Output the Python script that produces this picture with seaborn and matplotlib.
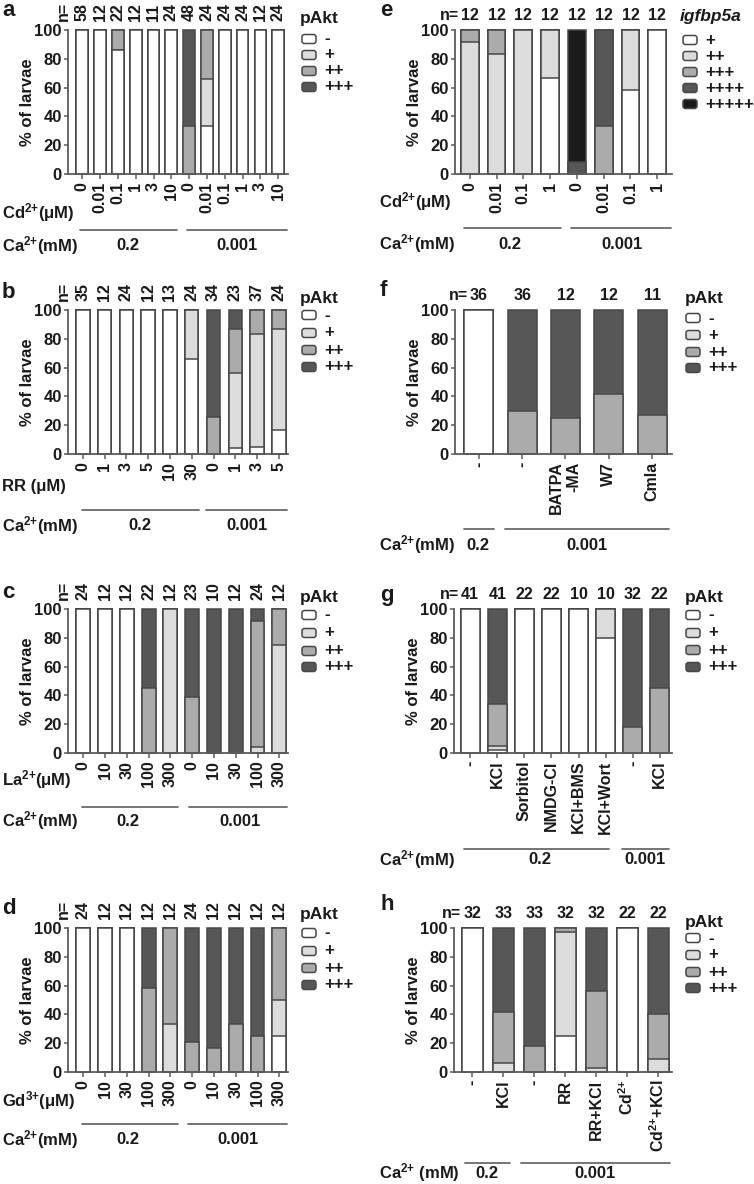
import numpy as np
import matplotlib
matplotlib.use("Agg")
import matplotlib.pyplot as plt
import seaborn as sns
from matplotlib.patches import FancyBboxPatch
from matplotlib.lines import Line2D
from matplotlib.transforms import IdentityTransform

sns.set_theme(style="ticks")
plt.rcParams['font.family'] = ['Liberation Sans', 'DejaVu Sans']
plt.rcParams['font.weight'] = 'bold'
plt.rcParams['mathtext.default'] = 'regular'
plt.rcParams['text.color'] = '#1a1a1a'
plt.rcParams['xtick.color'] = '#1a1a1a'
plt.rcParams['ytick.color'] = '#1a1a1a'

# ---------------- data ----------------
pakt_levels = ["-", "+", "++", "+++"]
igf_levels = ["+", "++", "+++", "++++", "+++++"]

a_labels = ["0", "0.01", "0.1", "1", "3", "10", "0", "0.01", "0.1", "1", "3", "10"]
a_n = [58, 12, 22, 12, 11, 24, 48, 24, 24, 24, 12, 24]
a_neg = [100, 100, 86, 100, 100, 100, 0, 33, 100, 100, 100, 100]
a_p1 = [0, 0, 0, 0, 0, 0, 0, 33, 0, 0, 0, 0]
a_p2 = [0, 0, 14, 0, 0, 0, 33, 34, 0, 0, 0, 0]
a_p3 = [0, 0, 0, 0, 0, 0, 67, 0, 0, 0, 0, 0]

b_labels = ["0", "1", "3", "5", "10", "30", "0", "1", "3", "5"]
b_n = [35, 12, 24, 12, 13, 24, 34, 23, 37, 24]
b_neg = [100, 100, 100, 100, 100, 66, 0, 4, 5, 17]
b_p1 = [0, 0, 0, 0, 0, 34, 0, 52, 78, 70]
b_p2 = [0, 0, 0, 0, 0, 0, 26, 31, 17, 13]
b_p3 = [0, 0, 0, 0, 0, 0, 74, 13, 0, 0]

c_labels = ["0", "10", "30", "100", "300", "0", "10", "30", "100", "300"]
c_n = [24, 12, 12, 22, 12, 23, 10, 12, 24, 12]
c_neg = [100, 100, 100, 0, 0, 0, 0, 0, 0, 0]
c_p1 = [0, 0, 0, 0, 100, 0, 0, 0, 4, 75]
c_p2 = [0, 0, 0, 45, 0, 39, 0, 0, 88, 25]
c_p3 = [0, 0, 0, 55, 0, 61, 100, 100, 8, 0]

d_labels = ["0", "10", "30", "100", "300", "0", "10", "30", "100", "300"]
d_n = [24, 12, 12, 12, 12, 24, 12, 12, 12, 12]
d_neg = [100, 100, 100, 0, 0, 0, 0, 0, 0, 25]
d_p1 = [0, 0, 0, 0, 33, 0, 0, 0, 0, 25]
d_p2 = [0, 0, 0, 58, 67, 21, 17, 33, 25, 50]
d_p3 = [0, 0, 0, 42, 0, 79, 83, 67, 75, 0]

e_labels = ["0", "0.01", "0.1", "1", "0", "0.01", "0.1", "1"]
e_n = [12, 12, 12, 12, 12, 12, 12, 12]
e_p1 = [0, 0, 0, 67, 0, 0, 58, 100]
e_p2 = [92, 83, 100, 33, 0, 0, 42, 0]
e_p3 = [8, 17, 0, 0, 0, 33, 0, 0]
e_p4 = [0, 0, 0, 0, 8, 67, 0, 0]
e_p5 = [0, 0, 0, 0, 92, 0, 0, 0]

f_labels = ["-", "-", "BATPA\n-MA", "W7", "Cmla"]
f_n = [36, 36, 12, 12, 11]
f_neg = [100, 0, 0, 0, 0]
f_p1 = [0, 0, 0, 0, 0]
f_p2 = [0, 30, 25, 42, 27]
f_p3 = [0, 70, 75, 58, 73]

g_labels = ["-", "KCl", "Sorbitol", "NMDG-Cl", "KCl+BMS", "KCl+Wort", "-", "KCl"]
g_n = [41, 41, 22, 22, 10, 10, 32, 22]
g_neg = [100, 2, 100, 100, 100, 80, 0, 0]
g_p1 = [0, 3, 0, 0, 0, 20, 0, 0]
g_p2 = [0, 29, 0, 0, 0, 0, 18, 45]
g_p3 = [0, 66, 0, 0, 0, 0, 82, 55]

h_labels = ["-", "KCl", "-", "RR", "RR+KCl", "Cd$^{2{+}}$", "Cd$^{2{+}}$+KCl"]
h_n = [32, 33, 33, 32, 32, 22, 22]
h_neg = [100, 0, 0, 25, 0, 100, 0]
h_p1 = [0, 6, 0, 72, 3, 0, 9]
h_p2 = [0, 36, 18, 3, 53, 0, 31]
h_p3 = [0, 58, 82, 0, 44, 0, 60]

# ---------------- style ----------------
W, H = 754, 1184
fig = plt.figure(figsize=(W / 100, H / 100), dpi=100)
fig.patch.set_facecolor('white')

EDGE = '#484848'
AXC = '#5c5c5c'
C4 = ['#ffffff', '#dcdcdc', '#ababab', '#575757']
C5 = ['#ffffff', '#dcdcdc', '#ababab', '#575757', '#1b1b1b']
FS = 12
XFS = 11.5
NFS = 11.5


def fx(x):
    return x / W


def fy(y):
    return 1 - y / H


def T(x, y, s, **kw):
    kw.setdefault('fontweight', 'bold')
    kw.setdefault('fontsize', FS)
    return fig.text(fx(x), fy(y), s, **kw)


def hline(x0, x1, y):
    fig.add_artist(Line2D([fx(x0), fx(x1)], [fy(y), fy(y)], color='#6a6a6a', lw=1.3))


def panel(box, xlim, width, segs, colors, labels, nvals, rotated_n):
    l, r, t, b = box
    ax = fig.add_axes([fx(l), fy(b), (r - l) / W, (b - t) / H])
    n = len(labels)
    cum = np.cumsum(np.array(segs, dtype=float), axis=0)
    for k in range(len(segs) - 1, -1, -1):
        sns.barplot(x=np.arange(n), y=cum[k], color=colors[k], width=width,
                    saturation=1, edgecolor=EDGE, linewidth=1.1,
                    errorbar=None, ax=ax)
    for p in ax.patches:
        p.set_clip_on(False)
    ax.set_xlim(*xlim)
    ax.set_ylim(0, 100)
    ax.set_yticks([0, 20, 40, 60, 80, 100])
    ax.set_yticklabels(["0", "20", "40", "60", "80", "100"], fontsize=FS, fontweight='bold')
    ax.set_xticks(range(n))
    ax.set_xticklabels(labels, rotation=90, fontsize=XFS, fontweight='bold',
                       va='top', ha='center', multialignment='right')
    ax.tick_params(axis='y', length=3, width=1.1, color=AXC, pad=1.5)
    ax.tick_params(axis='x', length=3.5, width=1.1, color=AXC, pad=2)
    sns.despine(ax=ax)
    for s in ['left', 'bottom']:
        ax.spines[s].set_color(AXC)
        ax.spines[s].set_linewidth(1.3)
    ax.set_xlabel("")
    ax.set_ylabel("")
    ax.patch.set_alpha(0)
    T(l - 41, (t + b) / 2, "% of larvae", rotation=90, ha='center', va='center', fontsize=12)

    def cx(i):
        return l + (i - xlim[0]) / (xlim[1] - xlim[0]) * (r - l)

    for i, v in enumerate(nvals):
        if rotated_n:
            T(cx(i), t - 9, str(v), rotation=90, ha='center', va='bottom', fontsize=NFS)
        else:
            T(cx(i), t - 10, str(v), ha='center', va='baseline', fontsize=NFS)
    if rotated_n:
        T(l - 5, t - 9, "n=", rotation=90, ha='center', va='bottom', fontsize=NFS)
    else:
        T(cx(0) - 11, t - 10, "n=", ha='right', va='baseline', fontsize=NFS)
    return ax


def legend(title, tx, ty, bx, ys, labels, colors, italic=False):
    T(tx, ty, title, ha='left', va='center', fontsize=12.5,
      fontstyle='italic' if italic else 'normal')
    for y, lab, c in zip(ys, labels, colors):
        p = FancyBboxPatch((bx, H - y - 4.5), 14, 9,
                           boxstyle='round,pad=0,rounding_size=2.5',
                           facecolor=c, edgecolor=EDGE, lw=1.1,
                           transform=IdentityTransform())
        fig.add_artist(p)
        T(bx + 22, y, lab, ha='left', va='center', fontsize=12)


# ---------------- panel a ----------------
panel((68, 288, 30, 174), (-0.8, 11.55), 0.66, [a_neg, a_p1, a_p2, a_p3], C4, a_labels, a_n, True)
T(2, 11, "a", fontsize=16, ha='left', va='center')
T(2, 213, "Cd$^{2{+}}$(μM)", ha='left', va='center')
hline(80, 177, 230); hline(187, 287, 230)
T(2, 246, "Ca$^{2{+}}$(mM)", ha='left', va='center')
T(128, 246, "0.2", ha='center', va='center')
T(237, 246, "0.001", ha='center', va='center')
legend("pAkt", 300, 19, 302, [39, 55, 71, 87], pakt_levels, C4)

# ---------------- panel b ----------------
panel((68, 288, 310, 454), (-0.68, 9.42), 0.62, [b_neg, b_p1, b_p2, b_p3], C4, b_labels, b_n, True)
T(2, 292, "b", fontsize=16, ha='left', va='center')
T(2, 487, "RR (μM)", ha='left', va='center')
hline(82, 199, 510); hline(206, 287, 510)
T(2, 526, "Ca$^{2{+}}$(mM)", ha='left', va='center')
T(140, 526, "0.2", ha='center', va='center')
T(247, 526, "0.001", ha='center', va='center')
legend("pAkt", 300, 298, 302, [315, 333, 350, 367], pakt_levels, C4)

# ---------------- panel c ----------------
panel((68, 288, 609, 753), (-0.7, 9.4), 0.64, [c_neg, c_p1, c_p2, c_p3], C4, c_labels, c_n, True)
T(2, 592, "c", fontsize=16, ha='left', va='center')
T(2, 780, "La$^{2{+}}$(μM)", ha='left', va='center')
hline(82, 178, 807); hline(189, 287, 807)
T(2, 821, "Ca$^{2{+}}$(mM)", ha='left', va='center')
T(128, 821, "0.2", ha='center', va='center')
T(240, 821, "0.001", ha='center', va='center')
legend("pAkt", 300, 597, 302, [615, 633, 651, 667], pakt_levels, C4)

# ---------------- panel d ----------------
panel((68, 288, 928, 1072), (-0.7, 9.4), 0.64, [d_neg, d_p1, d_p2, d_p3], C4, d_labels, d_n, True)
T(2, 909, "d", fontsize=16, ha='left', va='center')
T(2, 1101, "Gd$^{3{+}}$(μM)", ha='left', va='center')
hline(82, 178, 1124); hline(188, 287, 1124)
T(2, 1140, "Ca$^{2{+}}$(mM)", ha='left', va='center')
T(128, 1140, "0.2", ha='center', va='center')
T(238, 1140, "0.001", ha='center', va='center')
legend("pAkt", 300, 915, 302, [933, 951, 968, 985], pakt_levels, C4)

# ---------------- panel e ----------------
panel((455, 672, 30, 174), (-0.55, 7.55), 0.67, [e_p1, e_p2, e_p3, e_p4, e_p5], C5, e_labels, e_n, False)
T(380, 11, "e", fontsize=16, ha='left', va='center')
T(379, 202, "Cd$^{2{+}}$(μM)", ha='left', va='center')
hline(464, 561, 228); hline(571, 671, 228)
T(379, 244, "Ca$^{2{+}}$(mM)", ha='left', va='center')
T(510, 244, "0.2", ha='center', va='center')
T(622, 244, "0.001", ha='center', va='center')
legend("igfbp5a", 680, 17, 683, [40, 56, 72, 88, 104], igf_levels, C5, italic=True)

# ---------------- panel f ----------------
panel((455, 672, 310, 454), (-0.55, 4.46), 0.67, [f_neg, f_p1, f_p2, f_p3], C4, f_labels, f_n, False)
T(380, 291, "f", fontsize=16, ha='left', va='center')
hline(464, 494, 529); hline(505, 669, 529)
T(379, 545, "Ca$^{2{+}}$(mM)", ha='left', va='center')
T(478, 545, "0.2", ha='center', va='center')
T(587, 545, "0.001", ha='center', va='center')
legend("pAkt", 685, 298, 686, [318, 335, 352, 368], pakt_levels, C4)

# ---------------- panel g ----------------
panel((454, 672, 609, 753), (-0.6, 7.45), 0.69, [g_neg, g_p1, g_p2, g_p3], C4, g_labels, g_n, False)
T(380, 595, "g", fontsize=16, ha='left', va='center')
hline(464, 609, 849); hline(622, 669, 849)
T(379, 860, "Ca$^{2{+}}$(mM)", ha='left', va='center')
T(540, 860, "0.2", ha='center', va='center')
T(645, 860, "0.001", ha='center', va='center')
legend("pAkt", 685, 597, 686, [615, 633, 650, 667], pakt_levels, C4)

# ---------------- panel h ----------------
panel((454, 672, 928, 1072), (-0.59, 6.45), 0.68, [h_neg, h_p1, h_p2, h_p3], C4, h_labels, h_n, False)
T(380, 905, "h", fontsize=16, ha='left', va='center')
hline(465, 510, 1163); hline(521, 670, 1163)
T(379, 1173, "Ca$^{2{+}}$ (mM)", ha='left', va='center')
T(487, 1173, "0.2", ha='center', va='center')
T(595, 1173, "0.001", ha='center', va='center')
legend("pAkt", 685, 923, 686, [938, 955, 972, 988], pakt_levels, C4)

fig.savefig("out.png", dpi=100, facecolor='white')
